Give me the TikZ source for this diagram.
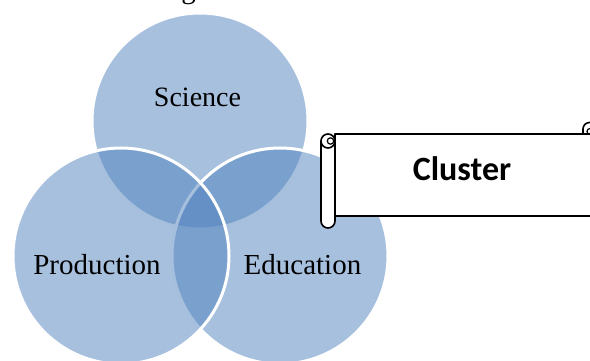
\documentclass[tikz,border=0pt]{standalone}
\usepackage{fontspec}
\setmainfont{Liberation Serif}
\newfontfamily\bannerfont{Carlito}
\definecolor{vennblue}{HTML}{4F81BD}
\begin{document}
\begin{tikzpicture}[x=1pt,y=1pt,
  venn/.style={circle, minimum size=216pt, inner sep=0pt, outer sep=0pt,
    fill=vennblue, fill opacity=0.5, draw=white, line width=3pt},
  vennlabel/.style={anchor=base, inner sep=0pt, text=black,
    font=\fontsize{29}{34}\selectfont},
  scrollline/.style={draw=black, line width=1.6pt, fill=white, line join=round}]
\useasboundingbox (0,0) rectangle (590,-361);

% the tail of a heading line above the picture
\begin{scope}
  \clip (0,0) rectangle (590,-361);
  \node[vennlabel] (heading) at (188.5,1) {g};
\end{scope}

% three overlapping circles
\node[venn] (science) at (200,-121) {};
\node[venn] (education) at (280,-256) {};
\node[venn] (production) at (121,-256) {};

\node[vennlabel, font=\fontsize{28}{33}\selectfont] (sciencetext) at (197.5,-107) {Science};
\node[vennlabel] (productiontext) at (97,-274) {Production};
\node[vennlabel] (educationtext) at (302.5,-274) {Education};

% horizontal scroll banner
\path[scrollline] (335,-134) rectangle (600,-216);
\path[scrollline] (583,-134) -- (583,-129) arc[start angle=180, end angle=0, radius=6.5] -- (596,-134) -- cycle;
\draw[line width=1.2pt] (590,-131.5) circle[radius=3];
\path[scrollline] (321,-141) -- (321,-221) arc[start angle=180, end angle=360, radius=7] -- (335,-141) -- cycle;
\path[scrollline] (328,-141) circle[radius=7];
\draw[line width=1.2pt] (330.5,-141) circle[radius=3.2];
\node[anchor=base, inner sep=0pt, font=\bannerfont\bfseries\fontsize{34}{40}\selectfont] (cluster) at (462,-180) {Cluster};
\end{tikzpicture}
\end{document}
